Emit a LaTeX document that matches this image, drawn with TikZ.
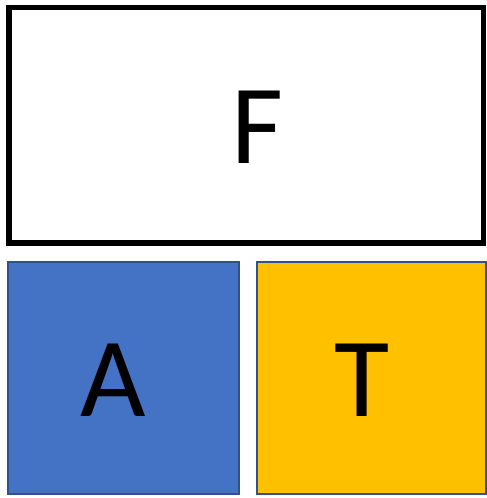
\documentclass[tikz,border=0pt]{standalone}
\usepackage{fontspec}
\setmainfont{Carlito}
\definecolor{accblue}{HTML}{4472C4}
\definecolor{accgold}{HTML}{FFC000}
\definecolor{edgeblue}{HTML}{2F528F}

\begin{document}
\begin{tikzpicture}[x=1pt, y=-1pt, every node/.style={font=\fontsize{113}{113}\selectfont}]
	\useasboundingbox (0,0) rectangle (487,498);
	\draw[line width=5.5pt] (9,7.5) rectangle (483.5,243);
	\node (f) at (257,127) {F};
	\draw[edgeblue, fill=accblue, line width=2pt] (8,262) rectangle (238.5,494);
	\node (a) at (113,380) {A};
	\draw[edgeblue, fill=accgold, line width=2pt] (256.5,262) rectangle (486,494);
	\node (t) at (362,380) {T};
\end{tikzpicture}
\end{document}
